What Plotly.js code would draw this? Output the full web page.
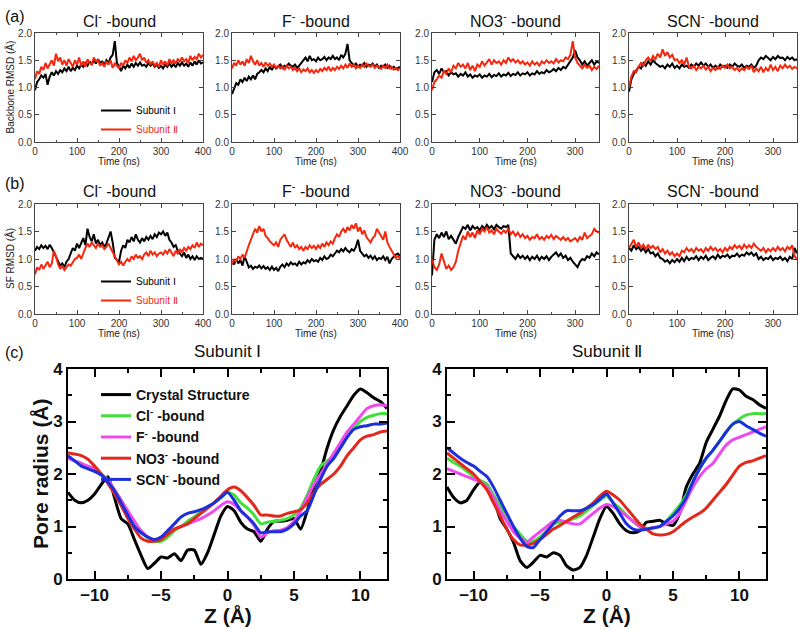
<!DOCTYPE html>
<html>
<head>
<meta charset="utf-8">
<script src="https://cdn.plot.ly/plotly-3.0.1.min.js"></script>
<style>html,body{margin:0;padding:0;background:#fff;}#chart{width:800px;height:630px;}</style>
</head>
<body>
<div id="chart"></div>
<script>
// ---------- time axes (ns) ----------
const t400 = [0,5,10,15,20,25,30,35,40,45,50,55,60,65,70,75,80,85,90,95,100,105,110,115,120,125,130,135,140,145,150,155,160,165,170,175,180,185,190,195,200,205,210,215,220,225,230,235,240,245,250,255,260,265,270,275,280,285,290,295,300,305,310,315,320,325,330,335,340,345,350,355,360,365,370,375,380,385,390,395,400];
const t350 = [0,5,10,15,20,25,30,35,40,45,50,55,60,65,70,75,80,85,90,95,100,105,110,115,120,125,130,135,140,145,150,155,160,165,170,175,180,185,190,195,200,205,210,215,220,225,230,235,240,245,250,255,260,265,270,275,280,285,290,295,300,305,310,315,320,325,330,335,340,345,350];

const panelTitles = ["Cl<sup>-</sup> -bound", "F<sup>-</sup> -bound", "NO3<sup>-</sup> -bound", "SCN<sup>-</sup> -bound"];
const subunitNames = ["Subunit Ⅰ", "Subunit Ⅱ"];

// ---------- (a) backbone RMSD (Å) ----------
const aCl_I = [0.95,1.10,1.15,1.22,1.18,1.25,1.05,1.20,1.28,1.22, 1.30,1.25,1.32,1.28,1.35,1.30,1.38,1.30,1.36,1.32, 1.40,1.35,1.42,1.38,1.45,1.40,1.48,1.42,1.50,1.44, 1.52,1.45,1.48,1.42,1.50,1.45,1.55,1.60,1.85,1.45, 1.38,1.30,1.40,1.35,1.42,1.36,1.44,1.38,1.45,1.40, 1.46,1.40,1.42,1.38,1.45,1.40,1.44,1.38,1.42,1.36, 1.40,1.35,1.42,1.38,1.44,1.38,1.43,1.37,1.45,1.40, 1.46,1.40,1.44,1.38,1.46,1.40,1.48,1.42,1.50,1.44, 1.46];
const aCl_II = [1.15,1.30,1.25,1.38,1.32,1.45,1.35,1.42,1.50,1.40, 1.62,1.48,1.55,1.42,1.50,1.40,1.52,1.45,1.38,1.50, 1.42,1.55,1.40,1.48,1.38,1.52,1.45,1.42,1.55,1.48, 1.50,1.40,1.45,1.38,1.48,1.42,1.50,1.36,1.44,1.40, 1.35,1.45,1.40,1.50,1.45,1.55,1.48,1.58,1.50,1.55, 1.62,1.50,1.55,1.45,1.50,1.42,1.48,1.40,1.45,1.38, 1.50,1.42,1.48,1.40,1.52,1.45,1.50,1.44,1.52,1.48, 1.55,1.48,1.52,1.45,1.58,1.50,1.56,1.52,1.62,1.55, 1.60];
const aF_I = [0.88,1.00,1.08,1.05,1.15,1.10,1.18,1.12,1.20,1.15, 1.22,1.15,1.25,1.28,1.32,1.28,1.35,1.30,1.38,1.32, 1.40,1.35,1.38,1.42,1.36,1.40,1.38,1.44,1.40,1.38, 1.42,1.36,1.40,1.45,1.50,1.55,1.48,1.58,1.50,1.52, 1.48,1.55,1.50,1.52,1.56,1.50,1.55,1.52,1.58,1.52, 1.55,1.50,1.60,1.55,1.62,1.80,1.50,1.45,1.40,1.44, 1.38,1.42,1.40,1.45,1.38,1.42,1.40,1.44,1.38,1.42, 1.36,1.40,1.38,1.42,1.36,1.40,1.35,1.38,1.34,1.36, 1.38];
const aF_II = [1.35,1.45,1.40,1.50,1.42,1.48,1.40,1.52,1.45,1.58, 1.48,1.42,1.50,1.40,1.45,1.38,1.46,1.40,1.44,1.38, 1.42,1.36,1.40,1.35,1.38,1.32,1.40,1.35,1.38,1.32, 1.36,1.30,1.35,1.28,1.33,1.30,1.35,1.28,1.32,1.27, 1.32,1.28,1.34,1.30,1.36,1.32,1.38,1.30,1.36,1.32, 1.38,1.34,1.40,1.35,1.42,1.36,1.44,1.38,1.42,1.35, 1.40,1.36,1.42,1.38,1.44,1.40,1.38,1.42,1.36,1.40, 1.38,1.34,1.40,1.36,1.42,1.35,1.38,1.33,1.36,1.32, 1.35];
const aNO3_I = [1.10,1.28,1.32,1.25,1.35,1.28,1.30,1.22,1.28,1.24, 1.26,1.20,1.25,1.22,1.28,1.20,1.24,1.18,1.22,1.20, 1.24,1.18,1.22,1.20,1.25,1.19,1.23,1.21,1.26,1.20, 1.24,1.22,1.27,1.21,1.25,1.23,1.28,1.22,1.26,1.24, 1.28,1.22,1.26,1.24,1.30,1.25,1.28,1.26,1.32,1.28, 1.30,1.34,1.30,1.36,1.32,1.38,1.35,1.42,1.48,1.55, 1.68,1.55,1.50,1.42,1.48,1.40,1.45,1.50,1.42,1.48, 1.45];
const aNO3_II = [0.95,1.10,1.15,1.22,1.18,1.30,1.25,1.35,1.28,1.40, 1.35,1.45,1.38,1.42,1.35,1.45,1.32,1.40,1.30,1.42, 1.38,1.48,1.40,1.45,1.52,1.42,1.50,1.45,1.48,1.42, 1.50,1.45,1.55,1.48,1.52,1.46,1.50,1.44,1.48,1.42, 1.46,1.40,1.48,1.42,1.46,1.40,1.48,1.44,1.50,1.45, 1.48,1.44,1.52,1.46,1.50,1.48,1.55,1.52,1.60,1.85, 1.55,1.45,1.40,1.35,1.42,1.36,1.40,1.32,1.38,1.34, 1.40];
const aSCN_I = [0.92,1.15,1.25,1.32,1.38,1.35,1.45,1.40,1.48,1.42, 1.50,1.45,1.42,1.38,1.40,1.35,1.42,1.38,1.44,1.36, 1.40,1.35,1.42,1.38,1.40,1.36,1.42,1.38,1.44,1.40, 1.46,1.40,1.44,1.38,1.42,1.36,1.40,1.35,1.42,1.38, 1.40,1.36,1.42,1.38,1.44,1.40,1.38,1.42,1.36,1.40, 1.38,1.42,1.36,1.40,1.50,1.55,1.52,1.58,1.54,1.50, 1.56,1.52,1.58,1.54,1.55,1.50,1.56,1.52,1.55,1.50, 1.52];
const aSCN_II = [1.00,1.20,1.30,1.28,1.38,1.45,1.40,1.50,1.55,1.48, 1.58,1.52,1.62,1.55,1.70,1.58,1.65,1.55,1.60,1.50, 1.52,1.45,1.50,1.42,1.55,1.38,1.35,1.40,1.32,1.38, 1.35,1.40,1.33,1.38,1.30,1.36,1.32,1.38,1.34,1.40, 1.36,1.42,1.35,1.38,1.32,1.36,1.30,1.35,1.32,1.38, 1.34,1.40,1.28,1.35,1.30,1.38,1.28,1.36,1.30,1.42, 1.32,1.38,1.30,1.40,1.35,1.42,1.36,1.40,1.34,1.38, 1.35];

// ---------- (b) selectivity filter RMSD (Å) ----------
const bCl_I = [1.15,1.22,1.18,1.25,1.20,1.24,1.18,1.26,1.20,1.12, 1.05,0.95,0.88,0.92,0.85,0.95,1.00,1.10,1.20,1.15, 1.28,1.20,1.30,1.38,1.25,1.55,1.40,1.32,1.45,1.28, 1.35,1.25,1.30,1.22,1.28,1.40,1.50,1.30,1.02,0.98, 0.95,1.15,1.25,1.20,1.35,1.30,1.40,1.32,1.45,1.35, 1.30,1.38,1.32,1.40,1.35,1.42,1.36,1.45,1.40,1.48, 1.45,1.50,1.42,1.48,1.35,1.30,1.22,1.25,1.15,1.10, 1.05,1.12,1.02,1.08,1.00,1.05,0.98,1.05,1.00,1.02, 1.00];
const bCl_II = [0.72,0.85,0.80,0.90,0.82,0.88,0.95,0.85,0.92,1.15, 1.05,0.90,0.82,0.88,0.80,0.85,0.90,0.88,0.95,1.00, 1.02,1.08,1.00,1.12,1.20,1.28,1.22,1.30,1.25,1.20, 1.28,1.22,1.25,1.18,1.22,1.28,1.20,1.12,1.05,0.98, 0.90,0.95,0.88,0.95,1.00,0.95,1.05,1.00,1.08,1.02, 1.05,1.00,1.08,1.12,1.05,1.15,1.08,1.12,1.05,1.10, 1.12,1.08,1.15,1.10,1.18,1.12,1.05,1.15,1.10,1.18, 1.12,1.20,1.15,1.22,1.18,1.25,1.20,1.30,1.22,1.28, 1.25];
const bF_I = [0.95,0.90,1.00,0.92,0.98,0.88,1.05,0.95,0.85,0.88, 0.82,0.86,0.84,0.88,0.83,0.87,0.82,0.85,0.80,0.86, 0.80,0.84,0.78,0.86,0.90,0.85,0.92,0.88,0.94,0.90, 0.92,0.88,0.95,0.90,0.94,0.92,0.98,0.94,1.00,0.96, 0.98,0.95,1.02,0.98,1.05,1.00,1.02,1.08,1.05,1.10, 1.15,1.12,1.18,1.14,1.20,1.15,1.12,1.18,1.15,1.22, 1.35,1.15,1.10,1.05,1.08,1.02,1.06,1.00,1.05,0.98, 1.02,1.00,1.05,0.98,1.04,0.92,1.00,1.05,1.08,1.10, 1.05];
const bF_II = [0.90,1.00,0.95,1.05,1.00,1.08,1.02,1.15,1.25,1.35, 1.45,1.55,1.48,1.60,1.50,1.55,1.42,1.38,1.32,1.28, 1.25,1.30,1.22,1.35,1.40,1.45,1.35,1.28,1.22,1.30, 1.20,1.25,1.18,1.22,1.15,1.22,1.18,1.25,1.20,1.24, 1.18,1.25,1.20,1.28,1.22,1.30,1.25,1.32,1.28,1.38, 1.45,1.40,1.50,1.55,1.48,1.58,1.52,1.62,1.55,1.65, 1.50,1.58,1.45,1.52,1.40,1.35,1.30,1.38,1.42,1.55, 1.48,1.40,1.35,1.50,1.30,1.22,1.15,1.08,1.02,1.05, 1.00];
const bNO3_I = [0.70,1.35,1.45,1.38,1.48,1.40,1.50,1.36,1.42,1.35, 1.28,1.40,1.50,1.58,1.55,1.62,1.52,1.60,1.55,1.58, 1.52,1.60,1.55,1.62,1.56,1.60,1.54,1.62,1.58,1.55, 1.60,1.58,1.62,1.10,1.05,1.00,1.08,1.02,1.06,1.00, 1.05,0.98,1.04,1.00,1.06,0.98,1.04,1.00,1.05,0.98, 1.04,1.08,1.12,1.05,1.10,1.02,1.06,0.98,1.02,0.95, 0.90,0.85,0.95,1.00,0.98,1.05,1.02,1.10,1.05,1.12, 1.08];
const bNO3_II = [1.00,0.85,0.80,0.90,1.10,0.95,0.82,0.88,0.80,0.85, 0.95,1.15,1.30,1.42,1.35,1.50,1.40,1.48,1.38,1.52, 1.45,1.55,1.50,1.58,1.48,1.52,1.45,1.55,1.50,1.46, 1.52,1.48,1.55,1.45,1.50,1.42,1.48,1.40,1.45,1.38, 1.42,1.35,1.40,1.38,1.45,1.36,1.40,1.35,1.42,1.38, 1.44,1.36,1.42,1.38,1.35,1.40,1.34,1.38,1.32,1.35, 1.38,1.32,1.40,1.35,1.48,1.38,1.42,1.45,1.55,1.50, 1.48];
const bSCN_I = [1.20,1.15,1.25,1.18,1.22,1.15,1.20,1.12,1.18,1.10, 1.12,1.05,1.10,1.02,1.00,0.95,0.98,0.92,0.98,0.94, 1.00,0.95,1.02,0.96,1.04,0.98,1.02,1.00,1.05,0.98, 1.04,1.00,1.06,0.98,1.02,1.05,1.00,1.08,1.02,1.06, 1.04,1.08,1.02,1.06,1.05,1.10,1.04,1.08,1.06,1.12, 1.08,1.12,1.06,1.10,1.00,1.04,0.98,1.02,1.00,1.05, 0.98,1.02,1.00,1.04,0.98,1.02,0.96,1.04,1.00,1.20, 1.10];
const bSCN_II = [1.20,1.28,1.35,1.22,1.30,1.20,1.26,1.18,1.25,1.20, 1.24,1.18,1.22,1.12,1.18,1.10,1.15,1.08,1.12,1.05, 1.10,1.05,1.15,1.12,1.20,1.14,1.18,1.12,1.20,1.15, 1.18,1.12,1.20,1.15,1.22,1.16,1.20,1.14,1.18,1.12, 1.20,1.15,1.22,1.18,1.25,1.20,1.24,1.18,1.26,1.20, 1.25,1.20,1.28,1.22,1.18,1.15,1.20,1.12,1.18,1.14, 1.20,1.15,1.22,1.16,1.20,1.14,1.22,1.18,1.25,1.05, 1.00];

// ---------- (c) pore radius profiles (Å) ----------
const zPos = [-12,-11.5,-11,-10.5,-10,-9.5,-9,-8.5,-8,-7.5,-7,-6.5,-6,-5.5,-5,-4.5,-4,-3.5,-3,-2.5,-2,-1.5,-1,-0.5,0,0.5,1,1.5,2,2.5,3,3.5,4,4.5,5,5.5,6,6.5,7,7.5,8,8.5,9,9.5,10,10.5,11,11.5,12];
const poreNames = ["Crystal Structure", "Cl<sup>-</sup> -bound", "F<sup>-</sup> -bound", "NO3<sup>-</sup> -bound", "SCN<sup>-</sup> -bound"];
const subI_crystal = [1.65,1.50,1.45,1.50,1.62,1.80,1.95,1.55,1.15,1.05,0.75,0.45,0.20,0.30,0.42,0.40,0.48,0.35,0.55,0.55,0.28,0.50,0.85,1.20,1.38,1.30,1.08,0.95,0.90,0.72,0.95,1.10,1.10,1.12,1.15,0.95,1.30,1.75,2.05,2.50,2.85,3.10,3.30,3.50,3.62,3.55,3.45,3.38,3.25];
const subI_cl = [2.30,2.25,2.20,2.12,2.05,2.00,1.88,1.70,1.50,1.28,1.05,0.90,0.78,0.72,0.72,0.80,0.92,1.00,1.10,1.18,1.28,1.35,1.45,1.55,1.65,1.60,1.45,1.35,1.22,1.05,1.08,1.10,1.12,1.15,1.22,1.35,1.60,1.90,2.15,2.25,2.35,2.50,2.70,2.88,3.00,3.08,3.12,3.15,3.15];
const subI_f = [2.30,2.25,2.20,2.15,2.10,2.00,1.88,1.70,1.50,1.30,1.10,0.92,0.80,0.75,0.78,0.85,0.95,1.00,1.05,1.10,1.15,1.22,1.30,1.40,1.47,1.42,1.30,1.18,1.02,0.80,0.88,0.92,0.93,0.98,1.10,1.30,1.55,1.80,2.00,2.20,2.40,2.60,2.80,2.95,3.10,3.25,3.30,3.32,3.30];
const subI_no3 = [2.40,2.38,2.35,2.28,2.15,2.00,1.82,1.62,1.40,1.15,0.95,0.78,0.72,0.72,0.75,0.85,0.95,1.00,1.05,1.15,1.25,1.35,1.45,1.58,1.70,1.75,1.68,1.55,1.40,1.22,1.22,1.20,1.20,1.25,1.28,1.32,1.45,1.65,1.80,1.90,2.00,2.15,2.35,2.50,2.65,2.72,2.75,2.80,2.82];
const subI_scn = [2.35,2.25,2.15,2.10,2.05,1.98,1.85,1.68,1.45,1.22,1.00,0.88,0.80,0.75,0.80,0.92,1.05,1.18,1.25,1.28,1.32,1.38,1.45,1.55,1.65,1.50,1.30,1.18,1.05,0.88,0.90,0.90,0.90,0.95,1.05,1.20,1.30,1.60,1.90,2.15,2.30,2.50,2.70,2.85,2.90,2.92,2.95,2.95,2.97];
const subII_crystal = [1.75,1.55,1.45,1.50,1.70,1.85,1.80,1.55,1.15,0.95,0.70,0.35,0.22,0.32,0.45,0.42,0.50,0.45,0.25,0.17,0.22,0.45,0.80,1.15,1.38,1.25,1.05,0.92,0.88,0.92,1.08,1.10,1.12,1.05,1.02,1.25,1.75,2.00,2.20,2.60,2.85,3.10,3.40,3.62,3.60,3.48,3.42,3.32,3.25];
const subII_cl = [2.30,2.22,2.15,2.05,1.95,1.88,1.80,1.60,1.40,1.20,1.00,0.85,0.72,0.72,0.80,0.92,1.05,1.08,1.10,1.15,1.20,1.30,1.40,1.50,1.58,1.45,1.35,1.22,1.10,1.00,0.95,0.98,1.00,1.10,1.25,1.40,1.60,1.85,2.10,2.30,2.45,2.62,2.80,2.95,3.05,3.12,3.15,3.15,3.15];
const subII_f = [2.10,2.05,2.00,1.95,1.90,1.85,1.75,1.55,1.30,1.10,0.90,0.78,0.70,0.80,0.90,1.00,1.10,1.12,1.08,1.05,1.05,1.15,1.25,1.35,1.42,1.38,1.30,1.20,1.10,1.00,0.95,0.98,1.00,1.05,1.10,1.25,1.50,1.75,1.95,2.10,2.20,2.38,2.55,2.65,2.70,2.75,2.80,2.85,2.90];
const subII_no3 = [2.40,2.30,2.20,2.10,2.00,1.85,1.70,1.45,1.20,0.95,0.75,0.65,0.65,0.68,0.75,0.85,0.95,1.02,1.10,1.18,1.25,1.35,1.45,1.58,1.67,1.60,1.50,1.35,1.20,1.05,0.95,0.86,0.84,0.85,0.90,1.00,1.10,1.18,1.25,1.35,1.50,1.65,1.80,1.98,2.15,2.22,2.25,2.30,2.35];
const subII_scn = [2.50,2.40,2.30,2.22,2.15,2.05,1.95,1.75,1.50,1.25,1.00,0.78,0.62,0.60,0.75,0.90,1.05,1.20,1.30,1.30,1.30,1.35,1.42,1.52,1.62,1.45,1.25,1.05,0.95,0.93,0.95,0.97,1.00,1.10,1.20,1.35,1.55,1.85,2.10,2.30,2.45,2.62,2.80,2.95,3.00,2.92,2.85,2.78,2.72];

// ---------- styling / layout helpers ----------
const W = 800, H = 630;
const px = v => v / W;
const py = v => 1 - v / H;
const FONT = "Liberation Sans, Arial, Helvetica, sans-serif";
const BLACK = "#000000", RED = "#f5280f";
const poreColors = ["#000000", "#3fe03a", "#ee4aee", "#e0291c", "#1c2fdc"];

const colX = [[35,203],[232,400],[432,599],[629,797]];
const rowA = [33,142], rowB = [204,314], rowC = [369,579];
const cX = [[68,387],[447,766]];

const aSeries = [[aCl_I,aCl_II],[aF_I,aF_II],[aNO3_I,aNO3_II],[aSCN_I,aSCN_II]];
const bSeries = [[bCl_I,bCl_II],[bF_I,bF_II],[bNO3_I,bNO3_II],[bSCN_I,bSCN_II]];
const tAxes = [t400, t400, t350, t350];
const cSeries = [[subI_crystal,subI_cl,subI_f,subI_no3,subI_scn],[subII_crystal,subII_cl,subII_f,subII_no3,subII_scn]];

const traces = [];
const layout = {
  width: W, height: H,
  margin: {l:0, r:0, t:0, b:0},
  paper_bgcolor: "#fff", plot_bgcolor: "#fff",
  font: {family: FONT, color: "#000"},
  showlegend: true,
  annotations: [],
};

function tsXaxis(dom, xmax, anchor) {
  return {domain: [px(dom[0]), px(dom[1])], range: [0, xmax], anchor: anchor,
    tickvals: xmax === 400 ? [0,100,200,300,400] : [0,100,200,300],
    ticks: "inside", ticklen: 4, tickcolor: "#444", tickwidth: 1,
    minor: {ticks: "inside", ticklen: 2, dtick: 50, tick0: 0, tickcolor: "#444"},
    showline: true, linecolor: "#444", linewidth: 1, mirror: "allticks",
    showgrid: false, zeroline: false, fixedrange: true,
    tickfont: {size: 10, color: "#333", family: FONT}};
}
function tsYaxis(dom, anchor) {
  return {domain: [py(dom[1]), py(dom[0])], range: [0, 2], anchor: anchor,
    tickvals: [0,0.5,1,1.5,2], ticktext: ["0.0","0.5","1.0","1.5","2.0"],
    ticks: "inside", ticklen: 4, tickcolor: "#444", tickwidth: 1,
    showline: true, linecolor: "#444", linewidth: 1, mirror: "allticks",
    showgrid: false, zeroline: false, fixedrange: true,
    tickfont: {size: 10, color: "#333", family: FONT}};
}

let axN = 0;
function addTsRow(series, rowPx, legendId, yTitle, titleY, timeY) {
  for (let c = 0; c < 4; c++) {
    axN++;
    const xk = axN === 1 ? "xaxis" : "xaxis" + axN;
    const yk = axN === 1 ? "yaxis" : "yaxis" + axN;
    const xr = axN === 1 ? "x" : "x" + axN;
    const yr = axN === 1 ? "y" : "y" + axN;
    layout[xk] = tsXaxis(colX[c], tAxes[c][tAxes[c].length - 1], yr);
    layout[yk] = tsYaxis(rowPx, xr);
    for (let s = 0; s < 2; s++) {
      traces.push({
        type: "scatter", mode: "lines", x: tAxes[c], y: series[c][s],
        xaxis: xr, yaxis: yr,
        line: {color: s === 0 ? BLACK : RED, width: 2},
        name: s === 0 ? subunitNames[0] : '<span style="color:' + RED + '">' + subunitNames[1] + '</span>',
        legend: legendId, showlegend: c === 0, hoverinfo: "skip",
      });
    }
    layout.annotations.push({xref: "paper", yref: "paper", x: px((colX[c][0] + colX[c][1]) / 2), y: py(titleY),
      text: panelTitles[c], showarrow: false, xanchor: "center", yanchor: "middle",
      font: {size: 16, family: FONT, color: "#111"}});
    layout.annotations.push({xref: "paper", yref: "paper", x: px((colX[c][0] + colX[c][1]) / 2), y: py(timeY),
      text: "Time (ns)", showarrow: false, xanchor: "center", yanchor: "middle",
      font: {size: 10, family: FONT, color: "#222"}});
  }
  layout.annotations.push({xref: "paper", yref: "paper", x: px(10), y: py((rowPx[0] + rowPx[1]) / 2),
    text: yTitle, textangle: -90, showarrow: false, xanchor: "center", yanchor: "middle",
    font: {size: 10, family: FONT, color: "#222"}});
}

addTsRow(aSeries, rowA, "legend", "Backbone RMSD (Å)", 20, 161);
addTsRow(bSeries, rowB, "legend2", "SF RMSD (Å)", 190, 333);

const cTitles = ["Subunit Ⅰ", "Subunit Ⅱ"];
for (let p = 0; p < 2; p++) {
  axN++;
  const xk = "xaxis" + axN, yk = "yaxis" + axN, xr = "x" + axN, yr = "y" + axN;
  layout[xk] = {domain: [px(cX[p][0]), px(cX[p][1])], range: [-12, 12], anchor: yr,
    tickvals: [-10,-5,0,5,10], ticks: "inside", ticklen: 8, tickwidth: 2, tickcolor: "#000",
    minor: {ticks: "inside", ticklen: 4, tickwidth: 2, tickvals: [-7.5,-2.5,2.5,7.5], tickcolor: "#000"},
    showline: true, linecolor: "#000", linewidth: 2, mirror: "allticks",
    showgrid: false, zeroline: false, fixedrange: true,
    tickfont: {size: 17, family: FONT, weight: "bold", color: "#111"}};
  layout[yk] = {domain: [py(rowC[1]), py(rowC[0])], range: [0, 4], anchor: xr,
    tickvals: [0,1,2,3,4], ticks: "inside", ticklen: 8, tickwidth: 2, tickcolor: "#000",
    minor: {ticks: "inside", ticklen: 4, tickwidth: 2, tickvals: [0.5,1.5,2.5,3.5], tickcolor: "#000"},
    showline: true, linecolor: "#000", linewidth: 2, mirror: "allticks",
    showgrid: false, zeroline: false, fixedrange: true,
    tickfont: {size: 17, family: FONT, weight: "bold", color: "#111"}};
  for (let k = 0; k < 5; k++) {
    traces.push({type: "scatter", mode: "lines", x: zPos, y: cSeries[p][k], xaxis: xr, yaxis: yr,
      line: {color: poreColors[k], width: 3, shape: "spline", smoothing: 0.6},
      name: poreNames[k], legend: "legend3", showlegend: p === 0, hoverinfo: "skip"});
  }
  layout.annotations.push({xref: "paper", yref: "paper", x: px((cX[p][0] + cX[p][1]) / 2), y: py(351),
    text: cTitles[p], showarrow: false, xanchor: "center", yanchor: "middle",
    font: {size: 17, family: FONT, color: "#111"}});
  layout.annotations.push({xref: "paper", yref: "paper", x: px((cX[p][0] + cX[p][1]) / 2), y: py(615),
    text: "Z (Å)", showarrow: false, xanchor: "center", yanchor: "middle",
    font: {size: 21, family: FONT, weight: "bold", color: "#111"}});
}
layout.annotations.push({xref: "paper", yref: "paper", x: px(40), y: py(474),
  text: "Pore radius (Å)", textangle: -90, showarrow: false, xanchor: "center", yanchor: "middle",
  font: {size: 21, family: FONT, weight: "bold", color: "#111"}});

// panel letters
[["(a)", 16], ["(b)", 183], ["(c)", 352]].forEach(([txt, y]) => {
  layout.annotations.push({xref: "paper", yref: "paper", x: px(3), y: py(y), text: txt, showarrow: false,
    xanchor: "left", yanchor: "middle", font: {size: 16, family: FONT, color: "#111"}});
});

const smallLegend = y => ({x: px(96), y: py(y), xanchor: "left", yanchor: "top", bgcolor: "rgba(0,0,0,0)",
  font: {size: 10, family: FONT, color: "#000"}, tracegroupgap: 0, itemwidth: 30});
layout.legend = smallLegend(96);
layout.legend2 = smallLegend(267);
layout.legend3 = {x: px(96), y: py(379), xanchor: "left", yanchor: "top", bgcolor: "rgba(0,0,0,0)",
  font: {size: 14, family: FONT, weight: "bold", color: "#111"}, tracegroupgap: 0, itemwidth: 30};

Plotly.newPlot("chart", traces, layout, {staticPlot: true, displayModeBar: false});
</script>
</body>
</html>
